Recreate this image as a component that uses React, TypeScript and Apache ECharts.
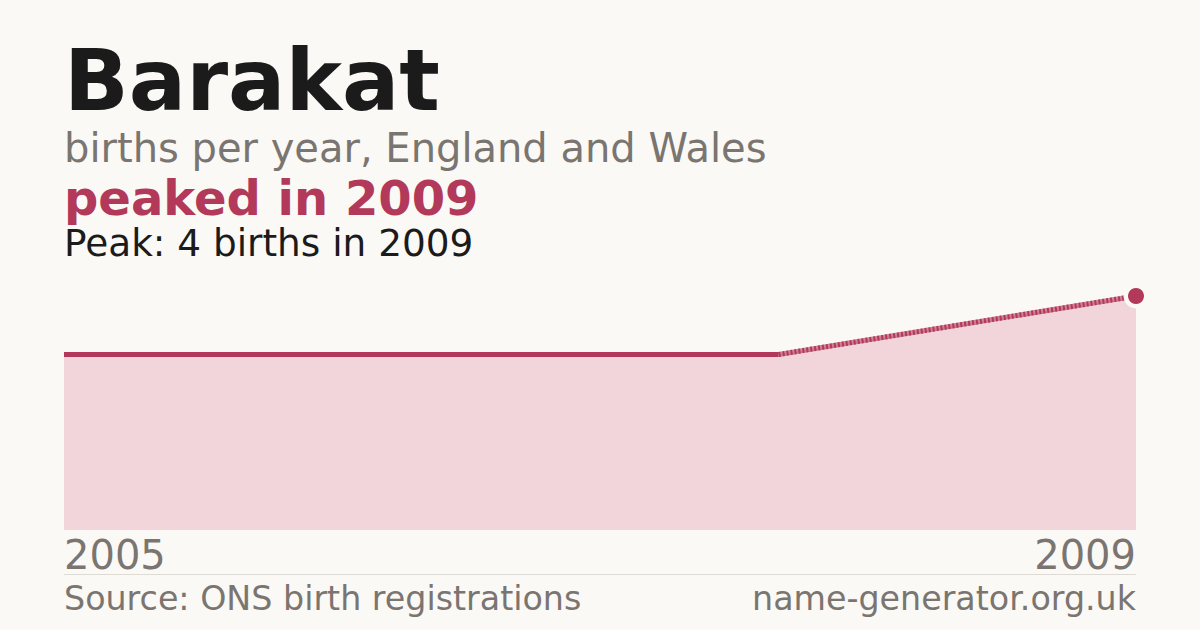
import React, { useEffect, useRef } from "react";
import * as echarts from "echarts";

const years = ["2005", "2006", "2007", "2009"];
const births = [3, 3, 3, 4];
const solidPart = [3, 3, 3, null];
const gapPart = [null, null, 3, 4];
const peakIndex = 3;

const BG = "#faf9f5";
const RED = "#b3395a";
const FILL = "#f1d5da";
const GREY = "#7a7570";
const DARK = "#1b1b1b";
const FONT = "'DejaVu Sans', sans-serif";

export default function App() {
  const ref = useRef<HTMLDivElement>(null);
  useEffect(() => {
    const chart = echarts.init(ref.current!, null, { renderer: "svg" });
    const last = years.length - 1;
    const peakData = births.map((v, i) => (i === peakIndex ? v : null));
    chart.setOption({
      animation: false,
      backgroundColor: BG,
      grid: { left: 64, right: 64, top: 296, bottom: 100 },
      xAxis: {
        type: "category",
        data: years,
        boundaryGap: false,
        axisLine: { show: false },
        axisTick: { show: false },
        splitLine: { show: false },
        axisLabel: {
          interval: (i: number) => i === 0 || i === last,
          color: GREY,
          fontFamily: FONT,
          fontSize: 40,
          margin: 5,
          alignMinLabel: "left",
          alignMaxLabel: "right",
        },
      },
      yAxis: { type: "value", min: 0, max: 4, show: false },
      series: [
        {
          type: "line",
          data: births,
          symbol: "none",
          lineStyle: { width: 0 },
          areaStyle: { color: FILL, opacity: 1 },
          z: 1,
        },
        {
          type: "line",
          data: solidPart,
          symbol: "none",
          lineStyle: { width: 5, color: RED, cap: "butt" },
          z: 3,
        },
        {
          type: "line",
          data: gapPart,
          symbol: "none",
          lineStyle: { width: 5, color: "rgba(179,57,90,0.6)", cap: "butt" },
          z: 3,
        },
        {
          type: "line",
          data: gapPart,
          symbol: "none",
          lineStyle: { width: 5, color: RED, type: [2, 2], cap: "butt" },
          z: 4,
        },
        {
          type: "scatter",
          data: peakData,
          symbolSize: 25,
          itemStyle: { color: BG, opacity: 1 },
          z: 5,
        },
        {
          type: "scatter",
          data: peakData,
          symbolSize: 16,
          itemStyle: { color: RED, opacity: 1 },
          z: 6,
        },
      ],
      graphic: [
        {
          type: "text",
          left: 64,
          top: 38,
          style: { text: "Barakat", fill: DARK, font: `bold 85px ${FONT}` },
        },
        {
          type: "text",
          left: 64,
          top: 128,
          style: { text: "births per year, England and Wales", fill: GREY, font: `40px ${FONT}` },
        },
        {
          type: "text",
          left: 64,
          top: 174,
          style: { text: "peaked in 2009", fill: RED, font: `bold 48px ${FONT}`, lineHeight: 42 },
        },
        {
          type: "text",
          left: 64,
          top: 224,
          style: { text: "Peak: 4 births in 2009", fill: DARK, font: `37.4px ${FONT}`, lineHeight: 34 },
        },
        {
          type: "line",
          shape: { x1: 64, y1: 574.5, x2: 1136, y2: 574.5 },
          style: { stroke: "#dedbd4", lineWidth: 1 },
        },
        {
          type: "text",
          left: 64,
          top: 582,
          style: { text: "Source: ONS birth registrations", fill: GREY, font: `33.3px ${FONT}` },
        },
        {
          type: "text",
          right: 64,
          top: 582,
          style: { text: "name-generator.org.uk", fill: GREY, font: `33.3px ${FONT}` },
        },
      ],
    });
    return () => chart.dispose();
  }, []);
  return (
    <div
      ref={ref}
      style={{ position: "fixed", left: 0, top: 0, width: 1200, height: 630 }}
    />
  );
}
